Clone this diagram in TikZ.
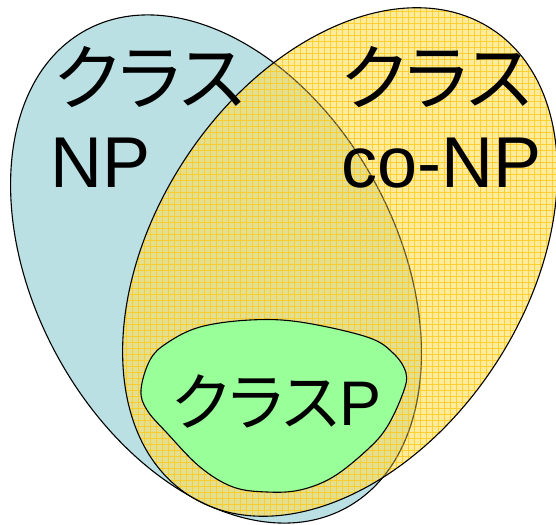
\documentclass[tikz,border=0pt]{standalone}
\usepackage{fontspec}
\setmainfont{Liberation Sans}
\newfontfamily\cjk{Noto Sans CJK JP}[RawFeature=+palt]
\usetikzlibrary{positioning}
\definecolor{npblue}{RGB}{187,224,227}
\definecolor{conpyellow}{RGB}{255,222,90}
\definecolor{gridgold}{RGB}{255,204,30}
\definecolor{pgreen}{RGB}{153,255,153}

\begin{document}
\begin{tikzpicture}[x=1pt,y=-1pt,line width=1.1pt,
    lbl/.style={font=\fontsize{72}{84}\selectfont,inner sep=0pt,anchor=base west}]
  \useasboundingbox (0,0) rectangle (556,524);
  % klasse NP
  \draw[fill=npblue,rotate around={118.6:(216,269)}] (216,269) ellipse[x radius=272pt,y radius=181pt];
  % klasse co-NP, halb durchsichtig mit Gitter
  \begin{scope}
    \clip[rotate around={57:(340,262)}] (340,262) ellipse[x radius=278pt,y radius=186pt];
    \fill[conpyellow,opacity=.6] (0,0) rectangle (560,530);
    \draw[gridgold,opacity=.85,line width=1pt,step=6pt] (0,0) grid (560,530);
    \draw[black!80!olive,opacity=.6,rotate around={118.6:(216,269)}] (216,269) ellipse[x radius=272pt,y radius=181pt];
  \end{scope}
  \draw[rotate around={57:(340,262)}] (340,262) ellipse[x radius=278pt,y radius=186pt];
  % klasse P
  \draw[fill=pgreen] plot[smooth cycle,tension=.6] coordinates {
    (141,390) (150,360) (167,343) (200,327) (250,320) (300,322) (367,337)
    (393,353) (406,373) (403,393) (387,427) (367,450) (333,477) (300,490)
    (267,492) (233,487) (200,467) (167,433) (147,410)};
  \node[lbl] (npkana) at (54,104) {\cjk クラス};
  \node[lbl] (npname) at (50,187) {NP};
  \node[lbl] (conpkana) at (341,104) {\cjk クラス};
  \node[lbl] (conpname) at (341,187) {co-NP};
  \node[lbl,anchor=base,font=\fontsize{63}{70}\selectfont] (plabel) at (277,425) {{\cjk クラス}P};
\end{tikzpicture}
\end{document}
